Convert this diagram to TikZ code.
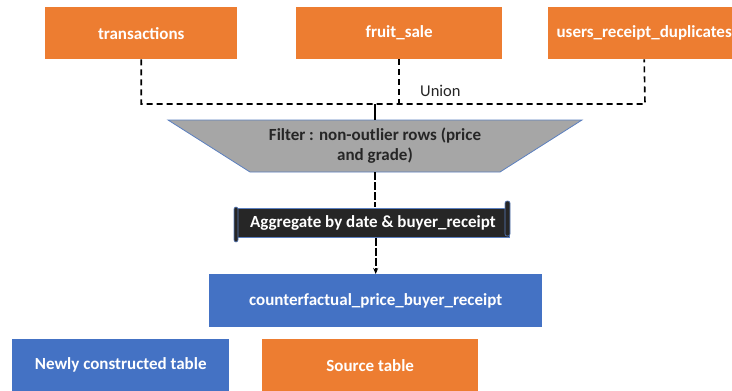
\documentclass[tikz,border=0pt]{standalone}
\usepackage{fontspec}
\setmainfont{Carlito}
\usetikzlibrary{arrows.meta}
\definecolor{srcorange}{HTML}{ED7D31}
\definecolor{newblue}{HTML}{4472C4}
\definecolor{filtergray}{HTML}{A6A6A6}
\definecolor{darkfill}{HTML}{262626}
\definecolor{edgeblue}{HTML}{5B7FBF}
\tikzset{
  x=1pt, y=-1pt,
  tablebox/.style={minimum height=52pt, inner sep=0pt, text=white,
    font=\fontsize{17}{20}\selectfont\bfseries, anchor=north west},
  srcbox/.style={tablebox, fill=srcorange},
  newbox/.style={tablebox, fill=newblue},
  unionline/.style={draw=black, line width=1.6pt, dash pattern=on 6pt off 4pt},
  flowline/.style={draw=black, line width=1.6pt, dash pattern=on 8pt off 2pt},
}
\begin{document}
\begin{tikzpicture}
\useasboundingbox (0,0) rectangle (732,391);
\clip (0,0) rectangle (732,391);

% source tables
\node[srcbox, minimum width=192pt] (tx) at (45,7) {transactions};
\node[srcbox, minimum width=206pt] (fs) at (296,7) {fruit\_sale};
\node[srcbox, minimum width=192pt] (urd) at (548,7) {users\_receipt\_duplicates};

% union of the three sources
\coordinate (ul) at (141,104);
\coordinate (ur) at (645,104);
\coordinate (uj) at (375,104);
\draw[unionline] (tx.south) -- (tx.south |- ul) -- (ur) -- (urd.south);
\draw[unionline] (fs.south) -- (fs.south |- ul);
\node[font=\fontsize{16.5}{18}\selectfont, text=darkfill, anchor=west, inner sep=0pt] (un) at (420,91) {Union};

% filter trapezoid
\coordinate (ftl) at (168,120);
\coordinate (ftr) at (582,120);
\coordinate (fbr) at (500,172);
\coordinate (fbl) at (250,172);
\draw[fill=filtergray, draw=edgeblue, line width=0.8pt] (ftl) -- (ftr) -- (fbr) -- (fbl) -- cycle;
\node[minimum width=250pt, minimum height=52pt, inner sep=0pt, align=center,
  text=darkfill, font=\fontsize{17}{20}\selectfont\bfseries] (filter) at (375,146)
  {Filter : non-outlier rows (price\\and grade)};
\draw[black, line width=1.6pt] (uj) -- (filter.north);

% aggregate step drawn as a scroll
\draw[fill=darkfill, draw=edgeblue, line width=0.6pt] (236,208) rectangle (509,237);
\draw[fill=darkfill, draw=edgeblue, line width=0.6pt, rounded corners=2pt] (234,207) rectangle (238,242);
\draw[fill=darkfill, draw=edgeblue, line width=0.6pt, rounded corners=2pt] (505,201) rectangle (510,236);
\node[minimum width=273pt, minimum height=30pt, inner sep=0pt, text=white,
  font=\fontsize{17}{20}\selectfont\bfseries] (agg) at (373,222.5)
  {Aggregate by date \& buyer\_receipt};
\draw[flowline] (filter.south) -- (agg.north -| filter.south);

% result table
\node[newbox, minimum width=333pt, minimum height=53pt] (res) at (209,274)
  {counterfactual\_price\_buyer\_receipt};
\draw[flowline, -{Stealth[length=6pt, width=5pt]}] (agg.south -| res.north) -- (res.north);

% legend
\node[newbox, minimum width=217pt] (lgnew) at (12,339) {Newly constructed table};
\node[srcbox, minimum width=216pt] (lgsrc) at (262,339) {Source table};
\end{tikzpicture}
\end{document}
